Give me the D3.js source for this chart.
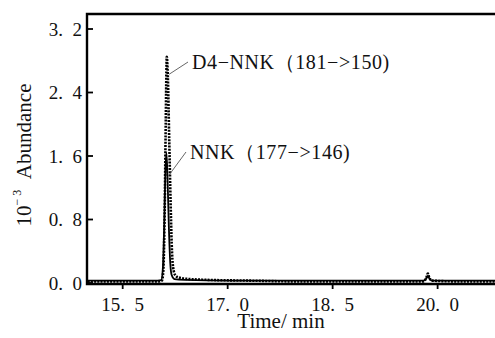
<!DOCTYPE html>
<html><head><meta charset="utf-8">
<script src="https://cdn.jsdelivr.net/npm/d3@7"></script>
<style>
html,body{margin:0;padding:0;background:#fff;}
svg{display:block;}
</style></head>
<body>
<svg id="c" width="495" height="338"></svg>
<script>
// ---- data ----
const xTicks = [15.5, 17.0, 18.5, 20.0];
const xTickLabels = ["15.\u20025", "17.\u20020", "18.\u20025", "20.\u20020"];
const yTicks = [0.0, 0.8, 1.6, 2.4, 3.2];
const yTickLabels = ["0.\u20020", "0.\u20028", "1.\u20026", "2.\u20024", "3.\u20022"];

const nnkTime = [15.0, 15.5, 16.0, 16.05, 16.075, 16.095, 16.11, 16.125, 16.14, 16.16, 16.18, 16.2, 16.24, 16.4, 17.0, 17.6, 18.0, 18.5, 19.0, 19.5, 19.8, 19.84, 19.86, 19.88, 19.92, 20.3, 20.82];
const nnkValue = [0.03, 0.03, 0.03, 0.035, 0.2, 0.8, 1.4, 1.64, 1.35, 0.7, 0.25, 0.1, 0.05, 0.04, 0.03, 0.03, 0.03, 0.03, 0.03, 0.03, 0.03, 0.06, 0.09, 0.06, 0.03, 0.03, 0.03];

const d4Time = [15.0, 15.5, 16.0, 16.06, 16.08, 16.1, 16.115, 16.13, 16.145, 16.165, 16.185, 16.2, 16.22, 16.25, 16.3, 16.45, 16.7, 17.3, 18.0, 18.5, 19.0, 19.5, 19.8, 19.84, 19.86, 19.88, 19.92, 20.3, 20.82];
const d4Value = [0.02, 0.02, 0.02, 0.03, 0.15, 0.9, 2.0, 2.85, 2.6, 1.8, 1.0, 0.5, 0.2, 0.1, 0.07, 0.05, 0.04, 0.03, 0.02, 0.02, 0.02, 0.02, 0.02, 0.07, 0.12, 0.07, 0.03, 0.02, 0.02];

const labels = ["D4\u2212NNK\uFF08181\u2212>150)", "NNK\uFF08177\u2212>146)"];

// ---- chart ----
const FONT = "'Liberation Serif', 'Times New Roman', Times, serif";
const svg = d3.select("#c").style("font-family", FONT);
const L = 87, R = 495, T = 14, B = 284;
const x = d3.scaleLinear().domain([14.99, 20.82]).range([L, R]);
const y = d3.scaleLinear().domain([-0.0126, 3.389]).range([B, T]);

svg.append("path")
  .attr("d", `M${R},${T}H${L}V${B}H${R}`)
  .attr("fill", "none").attr("stroke", "#000").attr("stroke-width", 2.4);

const gy = svg.append("g").attr("transform", `translate(${L},0)`);
yTicks.forEach((v, i) => {
  gy.append("line").attr("x1", 0).attr("x2", 6).attr("y1", y(v)).attr("y2", y(v))
    .attr("stroke", "#000").attr("stroke-width", 1.8);
  gy.append("text").attr("x", -5).attr("y", y(v)).attr("dy", "0.35em")
    .attr("text-anchor", "end").attr("font-size", 19)
    .attr("font-family", FONT).attr("fill", "#111")
    .text(yTickLabels[i]);
});

const gx = svg.append("g").attr("transform", `translate(0,${B})`);
xTicks.forEach((v, i) => {
  gx.append("line").attr("x1", x(v)).attr("x2", x(v)).attr("y1", 0).attr("y2", 5)
    .attr("stroke", "#000").attr("stroke-width", 1.8);
  gx.append("text").attr("x", x(v)).attr("y", 27)
    .attr("text-anchor", "middle").attr("font-size", 19)
    .attr("font-family", FONT).attr("fill", "#111")
    .text(xTickLabels[i]);
});

svg.append("text").attr("x", 281).attr("y", 328).attr("text-anchor", "middle")
  .attr("font-family", FONT).attr("fill", "#111")
  .attr("font-size", 21).text("Time/ min");
const yt = svg.append("text").attr("transform", `translate(31,155) rotate(-90)`)
  .attr("font-family", FONT).attr("fill", "#111")
  .attr("text-anchor", "middle").attr("font-size", 21);
yt.append("tspan").text("10");
yt.append("tspan").attr("font-size", 12).attr("dy", -10).text("\u2212 3");
yt.append("tspan").attr("dy", 10).text("\u2002Abundance");

const line = d3.line().x(d => x(d[0])).y(d => y(d[1])).curve(d3.curveMonotoneX);
const d4 = d4Time.map((t, i) => [t, d4Value[i]]);
const nnk = nnkTime.map((t, i) => [t, nnkValue[i]]);
svg.append("path").datum(d4).attr("d", line).attr("fill", "none")
  .attr("stroke", "#000").attr("stroke-width", 2.6).attr("stroke-dasharray", "2,1.2");
svg.append("path").datum(nnk).attr("d", line).attr("fill", "none")
  .attr("stroke", "#000").attr("stroke-width", 1.8);

const ann = [
  {t: 16.15, v: 2.63, lx: 188, ly: 62, label: labels[0]},
  {t: 16.14, v: 1.35, lx: 186, ly: 152, label: labels[1]}
];
ann.forEach(a => {
  svg.append("line").attr("x1", x(a.t) + 1).attr("y1", y(a.v)).attr("x2", a.lx).attr("y2", a.ly)
    .attr("stroke", "#555").attr("stroke-width", 0.9);
  svg.append("text").attr("x", a.lx + 4).attr("y", a.ly).attr("dy", "0.35em")
    .attr("font-family", FONT).attr("fill", "#111").attr("letter-spacing", 0.6)
    .attr("font-size", 20).text(a.label);
});
</script>
</body></html>
